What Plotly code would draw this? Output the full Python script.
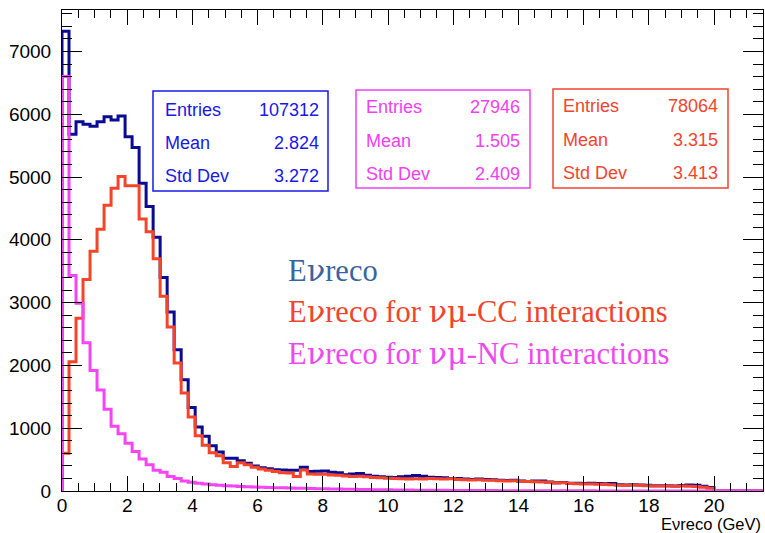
import plotly.graph_objects as go

# Reconstructed neutrino energy histograms: 100 bins over 0 - 21.5 GeV
n_bins = 100
x_low, x_high = 0.0, 21.5

evreco_all = [
    7320, 5680, 5880, 5840, 5810, 5880, 5960, 5910, 5970, 5640,
    5470, 4900, 4530, 4040, 3400, 2850, 2250, 1770, 1330, 1020,
    870, 720, 620, 520, 520, 480, 440, 400, 370, 355,
    340, 335, 330, 330, 380, 310, 315, 320, 300, 290,
    260, 270, 280, 250, 235, 225, 220, 215, 225, 235,
    245, 235, 220, 215, 210, 200, 200, 190, 185, 190,
    185, 180, 172, 168, 170, 160, 152, 158, 160, 145,
    132, 135, 125, 122, 120, 122, 118, 115, 118, 100,
    95, 98, 95, 90, 85, 82, 82, 80, 88, 95,
    90, 75, 55, 0, 0, 0, 0, 0, 0, 0,
]

evreco_cc = [
    600, 2060, 2750, 3370, 3820, 4170, 4550, 4820, 5010, 4860,
    4860, 4330, 4130, 3700, 3100, 2610, 2040, 1560, 1180, 880,
    730, 610, 560, 450, 390, 450, 420, 380, 350, 330,
    310, 290, 285, 230, 335, 270, 268, 265, 255, 250,
    240, 232, 235, 225, 215, 210, 205, 200, 195, 190,
    195, 192, 200, 195, 192, 195, 185, 180, 175, 178,
    170, 172, 165, 160, 162, 155, 150, 148, 145, 140,
    128, 130, 120, 115, 112, 110, 108, 105, 100, 92,
    90, 94, 90, 85, 80, 78, 78, 76, 80, 75,
    70, 60, 45, 0, 0, 0, 0, 0, 0, 0,
]

evreco_nc = [
    6600, 3430, 2990, 2360, 1920, 1610, 1300, 1030, 910, 760,
    630, 510, 420, 330, 300, 230, 200, 160, 140, 122,
    110, 100, 92, 85, 78, 72, 68, 62, 58, 55,
    52, 50, 47, 45, 42, 40, 37, 35, 32, 30,
    28, 26, 24, 22, 20, 19, 18, 16, 15, 14,
    13, 12, 11, 10, 10, 9, 8, 8, 7, 7,
    6, 6, 5, 5, 4, 4, 4, 3, 3, 3,
    3, 2, 2, 2, 2, 2, 1, 1, 1, 1,
    1, 1, 1, 1, 1, 0, 0, 0, 0, 0,
    0, 0, 0, 0, 0, 0, 0, 0, 0, 0,
]

stats = [
    # (entries, mean, std dev, colour)
    ("107312", "2.824", "3.272", "#1818e8"),
    ("27946", "1.505", "2.409", "#f040f0"),
    ("78064", "3.315", "3.413", "#f2442c"),
]

GREEK = '<span style="font-family:\'DejaVu Serif\'">{}</span>'
NU = GREEK.format("\u03bd")
NUMU = GREEK.format("\u03bd\u03bc")

legend_lines = [
    ("E" + NU + "reco", "#3a64a0"),
    ("E" + NU + "reco for " + NUMU + "-CC interactions", "#f2442c"),
    ("E" + NU + "reco for " + NUMU + "-NC interactions", "#f048f0"),
]

W, H = 765, 533
L, R, T, B = 62, 2, 10, 42
Y_MAX = 7660


def step_xy(values):
    """Outline of a histogram: closed at zero on both ends."""
    width = (x_high - x_low) / n_bins
    edges = [x_low + i * width for i in range(n_bins + 1)]
    xs = [x_low] + edges[:-1] + [edges[-1], edges[-1]]
    ys = [0] + list(values) + [values[-1], 0]
    return xs, ys


def px_x(px):
    return (px - L) / (W - L - R)


def px_y(py):
    return (H - B - py) / (H - B - T)


fig = go.Figure()

for vals, col in [
    (evreco_all, "#0a0a94"),
    (evreco_cc, "#f5442a"),
    (evreco_nc, "#f444f4"),
]:
    xs, ys = step_xy(vals)
    fig.add_trace(go.Scatter(
        x=xs, y=ys, mode="lines", line=dict(color=col, width=3, shape="hv"),
        hoverinfo="skip", showlegend=False,
    ))

# statistics boxes
boxes = [
    dict(x0=153, x1=328, y0=91, y1=191, rows=(110, 143, 176), lx=163, rx=321),
    dict(x0=356, x1=530, y0=90, y1=188, rows=(107, 141, 174), lx=364, rx=522),
    dict(x0=553, x1=728, y0=89, y1=188, rows=(106, 140, 173), lx=561, rx=720),
]
shapes = []
annotations = []
for box, (ent, mean, sd, col) in zip(boxes, stats):
    shapes.append(dict(
        type="rect", xref="paper", yref="paper",
        x0=px_x(box["x0"]), x1=px_x(box["x1"]),
        y0=px_y(box["y1"]), y1=px_y(box["y0"]),
        line=dict(color=col, width=1.5), fillcolor="white", layer="above",
    ))
    for name, val, ry in zip(("Entries", "Mean", "Std Dev"), (ent, mean, sd), box["rows"]):
        annotations.append(dict(
            xref="paper", yref="paper", x=px_x(box["lx"]), y=px_y(ry),
            text=name, showarrow=False, xanchor="left", yanchor="middle",
            font=dict(family="Liberation Sans", size=18, color=col),
        ))
        annotations.append(dict(
            xref="paper", yref="paper", x=px_x(box["rx"]), y=px_y(ry),
            text=val, showarrow=False, xanchor="right", yanchor="middle",
            font=dict(family="Liberation Sans", size=18, color=col),
        ))

for (txt, col), ry in zip(legend_lines, (270, 312, 353)):
    annotations.append(dict(
        xref="paper", yref="paper", x=px_x(286), y=px_y(ry),
        text=txt, showarrow=False, xanchor="left", yanchor="middle",
        font=dict(family="Liberation Serif", size=30.5, color=col),
    ))

# x axis title at the end of the axis
annotations.append(dict(
    xref="paper", yref="paper", x=1.0, y=px_y(524),
    text="E\u03bdreco (GeV)", showarrow=False, xanchor="right", yanchor="middle",
    font=dict(family="Liberation Sans", size=16.5, color="black"),
))

fig.update_layout(
    width=W, height=H,
    margin=dict(l=L, r=R, t=T, b=B, pad=0),
    paper_bgcolor="white", plot_bgcolor="white",
    shapes=shapes, annotations=annotations,
    showlegend=False,
)
fig.update_xaxes(
    range=[x_low, x_high], tick0=0, dtick=2, showgrid=False, zeroline=False,
    showline=True, linecolor="black", linewidth=1, mirror="ticks",
    ticks="inside", ticklen=15, tickcolor="black", tickwidth=1,
    minor=dict(ticks="inside", dtick=0.5, ticklen=8, tickcolor="black", showgrid=False),
    tickfont=dict(family="Liberation Sans", size=19, color="black"),
    ticklabelstandoff=-3,
)
fig.update_yaxes(
    range=[0, Y_MAX], tick0=0, dtick=1000, showgrid=False, zeroline=False,
    showline=True, linecolor="black", linewidth=1, mirror="ticks",
    ticks="inside", ticklen=20, tickcolor="black", tickwidth=1,
    minor=dict(ticks="inside", dtick=200, ticklen=10, tickcolor="black", showgrid=False),
    tickfont=dict(family="Liberation Sans", size=19, color="black"),
    ticklabelstandoff=6,
)

fig.write_html("out.html")
